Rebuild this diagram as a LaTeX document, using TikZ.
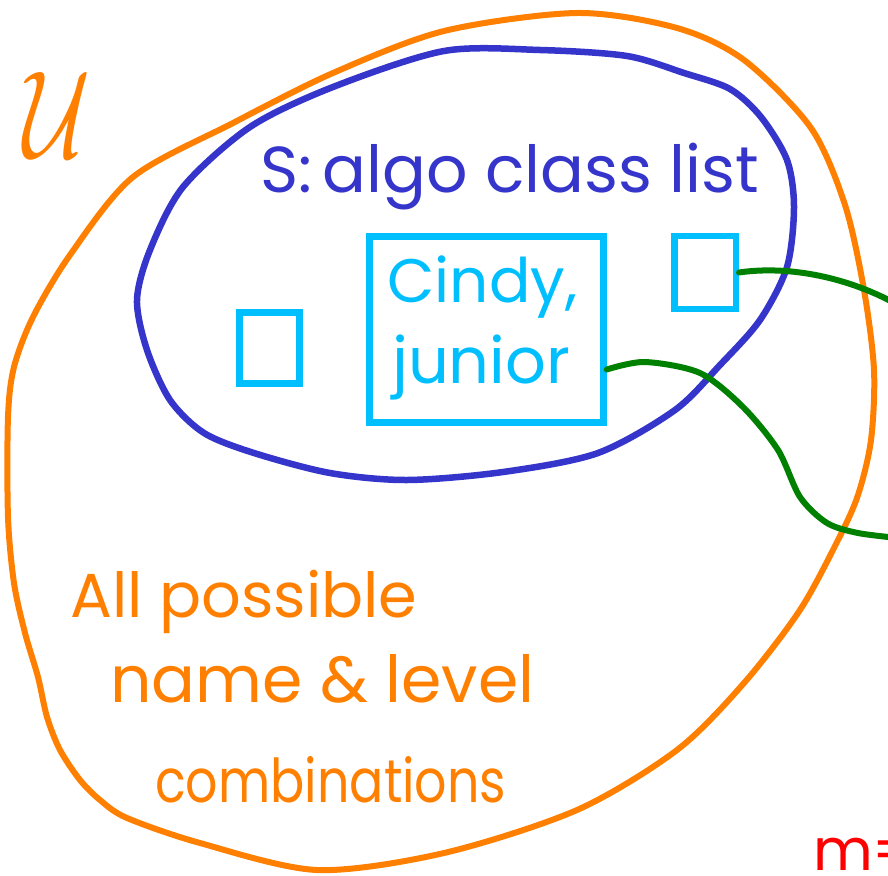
\documentclass[tikz,border=0pt]{standalone}
\usepackage{fontspec}
\setmainfont{Poppins}
\usepackage{graphicx}
\definecolor{uorange}{RGB}{255,128,0}
\definecolor{sblue}{RGB}{53,53,204}
\definecolor{boxcyan}{RGB}{0,191,255}
\definecolor{lgreen}{RGB}{0,128,0}
\definecolor{mred}{RGB}{255,0,0}
\tikzset{
  orangeline/.style={draw=uorange, line width=6pt, line join=round, line cap=round},
  blueline/.style={draw=sblue, line width=6.5pt, line join=round, line cap=round},
  greenline/.style={draw=lgreen, line width=6pt, line cap=round},
  elembox/.style={draw=boxcyan, line width=6.5pt, rectangle, inner sep=0pt},
  handtext/.style={anchor=base west, inner sep=0pt},
}
\begin{document}
\begin{tikzpicture}[x=1pt, y=-1pt]
\path[use as bounding box, clip] (0,0) rectangle (888,875);
\fill[white] (0,0) rectangle (888,875);
% universe
\draw[orangeline] plot[smooth cycle] coordinates {
 (444,31) (577,13) (677,28) (744,60) (811,128) (845,205) (864,290) (874,370)
 (871,440) (858,495) (838,540) (800,610) (744,683) (677,750) (577,810) (444,853) (317,870)
 (200,843) (127,818) (100,800) (80,780) (60,750) (47,717) (38,677) (25,633) (14,583)
 (8,517) (8,417) (14,367) (33,317) (70,255) (133,177) (233,123) (333,73)};
% set S
\draw[blueline] plot[smooth cycle] coordinates {
 (444,51) (540,50) (627,56) (684,73) (730,89) (761,117) (787,160) (794,207)
 (787,267) (760,320) (720,365) (675,410) (598,453) (503,472) (407,480) (330,473)
 (254,453) (204,433) (170,400) (147,350) (137,300) (150,250) (183,187) (250,127) (333,87)};
% element boxes
\node[elembox, minimum width=60pt, minimum height=71pt] (lbox) at (269.5,348) {};
\node[elembox, minimum width=234pt, minimum height=186pt] (cindy) at (486.5,329.5) {};
\node[elembox, minimum width=61.5pt, minimum height=73pt] (rbox) at (705,272.5) {};
% texts
\node[handtext, text=uorange] (ulabel) at (23,157) {\resizebox{67pt}{85pt}{$\mathcal{U}$}};
\node[handtext, text=sblue] (stitle) at (260,192) {\resizebox{499pt}{!}{S:\,algo class list}};
\node[handtext, text=boxcyan] (cname) at (387,302) {\resizebox{190pt}{!}{Cindy,}};
\node[handtext, text=boxcyan] (clevel) at (392,383) {\resizebox{178pt}{!}{junior}};
\node[handtext, text=uorange] (all1) at (70,617) {\resizebox{347pt}{!}{All possible}};
\node[handtext, text=uorange] (all2) at (110,702) {\resizebox{424pt}{!}{name \& level}};
\node[handtext, text=uorange] (all3) at (155,802) {\resizebox{351pt}{46pt}{combinations}};
\node[handtext, text=mred] (mlabel) at (813,870) {\fontsize{58}{60}\selectfont m=};
% connectors
\coordinate (g1end) at (898,305);
\coordinate (g2start) at ([yshift=-40pt]cindy.east);
\coordinate (g2end) at (898,538);
\draw[greenline] (rbox.east) .. controls (790,265) and (850,278) .. (g1end);
\draw[greenline] plot[smooth] coordinates {(g2start) (645,362) (700,373) (743,407)
 (778,450) (800,497) (827,523) (858,533) (g2end)};
\end{tikzpicture}
\end{document}
